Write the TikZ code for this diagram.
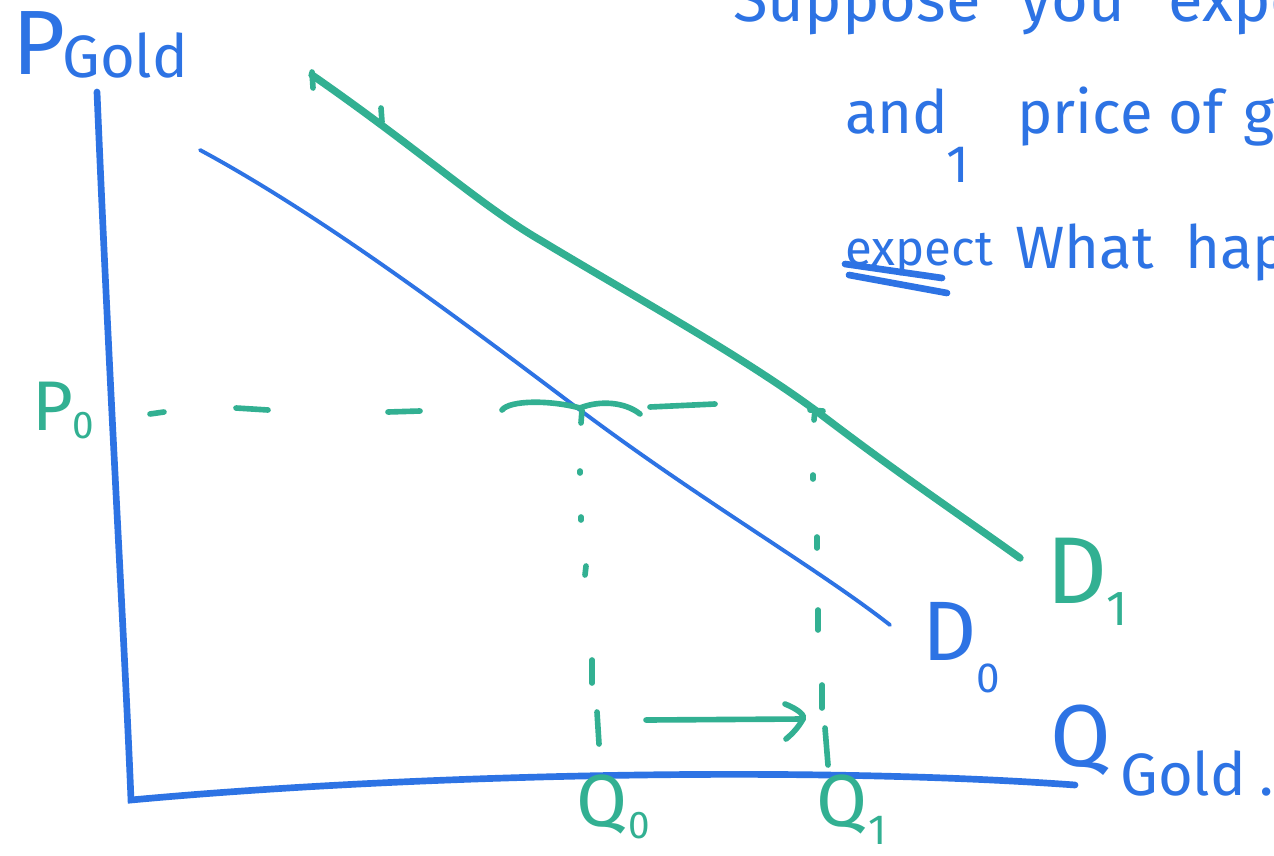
\documentclass[tikz,border=0pt]{standalone}
\usepackage{fontspec}
\setmainfont{Fira Sans}
\definecolor{pblue}{RGB}{45,115,228}
\definecolor{pgreen}{RGB}{50,176,146}
\tikzset{
  blueaxis/.style={draw=pblue,line width=3.8pt,line cap=round},
  blueline/.style={draw=pblue,line width=2.2pt,line cap=round},
  greenline/.style={draw=pgreen,line width=4.2pt,line cap=round},
  greendash/.style={draw=pgreen,line width=3.2pt,line cap=round},
  bluetxt/.style={text=pblue,anchor=base west,inner sep=0pt},
  greentxt/.style={text=pgreen,anchor=base west,inner sep=0pt},
}
\newcommand{\fs}[1]{\fontsize{#1}{#1}\selectfont}
\begin{document}
\begin{tikzpicture}[x=0.02cm,y=-0.02cm]
\useasboundingbox (0,0) rectangle (1274,855);
\clip (0,0) rectangle (1274,855);
\fill[white] (0,0) rectangle (1274,855);
% axes
\draw[blueaxis] (97,92) .. controls (110,400) and (125,650) .. (131,800) .. controls (400,775) and (800,765) .. (1075,785);
% D0
\draw[blueline] (200,150) .. controls (330,220) and (480,335) .. (580,410) .. controls (700,500) and (820,570) .. (890,625);
% D1
\draw[greenline] (312,75) .. controls (420,150) and (480,205) .. (540,240) .. controls (640,300) and (740,355) .. (815,410) .. controls (900,475) and (960,515) .. (1020,558);
\draw[greendash] (312,72) -- (313,88);
\draw[greendash] (381,108) -- (382,122);
\draw[greendash] (810,410) -- (823,411);
\draw[greendash] (815,410) -- (814,420);
% horizontal P0 dashes
\draw[greendash] (150,414) -- (164,412);
\draw[greendash] (236,408) -- (268,410);
\draw[greendash] (388,412) -- (420,411);
\draw[greendash] (502,410) .. controls (510,400) and (550,400) .. (580,408);
\draw[greendash] (580,408) .. controls (600,400) and (625,402) .. (640,414);
\draw[greendash] (582,410) -- (581,423);
\draw[greendash] (650,407) -- (715,404);
% vertical Q0 dashes
\draw[greendash] (580,471) -- (580,473);
\draw[greendash] (581,517) -- (581,520);
\draw[greendash] (586,566) -- (585,575);
\draw[greendash] (592,660) -- (592,683);
\draw[greendash] (597,712) -- (599,744);
% vertical Q1 dashes
\draw[greendash] (813,475) -- (813,479);
\draw[greendash] (817,537) -- (817,548);
\draw[greendash] (818,610) -- (818,630);
\draw[greendash] (822,685) -- (822,708);
\draw[greendash] (825,728) -- (828,765);
% arrow
\coordinate (arrS) at (646,720);
\coordinate (arrE) at (803,719);
\draw[greendash] (arrS) -- (arrE);
\draw[greendash] (785,704) .. controls (800,710) and (805,716) .. (arrE) .. controls (798,728) and (792,734) .. (786,739);
% axis labels
\node[bluetxt,font=\fs{52}] (pgP) at (12,75) {P};
\node[bluetxt,font=\fs{34}] (pgG) at (62,78) {Gold};
\node[bluetxt,font=\fs{50}] (qgQ) at (1050,766) {Q};
\node[bluetxt,font=\fs{34}] (qgG) at (1120,795) {Gold\hspace{8pt}.};
% P0
\node[greentxt,font=\fs{40}] (p0P) at (32,430) {P};
\node[greentxt,font=\fs{22}] (p0s) at (72,438) {0};
% Q0 Q1
\node[greentxt,font=\fs{42}] (q0Q) at (576,826) {Q};
\node[greentxt,font=\fs{22}] (q0s) at (628,838) {0};
\node[greentxt,font=\fs{42}] (q1Q) at (816,826) {Q};
\node[greentxt,font=\fs{24}] (q1s) at (868,844) {1};
% D0 D1
\node[bluetxt,font=\fs{48}] (d0D) at (922,660) {D};
\node[bluetxt,font=\fs{24}] (d0s) at (976,692) {0};
\node[greentxt,font=\fs{54}] (d1D) at (1046,603) {D};
\node[greentxt,font=\fs{28}] (d1s) at (1106,625) {1};
% top text
\node[bluetxt,font=\fs{36}] (t1) at (733,22) {Suppose};
\node[bluetxt,font=\fs{36}] (t2) at (1020,22) {you};
\node[bluetxt,font=\fs{36}] (t3) at (1168,22) {expect};
\node[bluetxt,font=\fs{34}] (t4) at (845,133) {and};
\node[bluetxt,font=\fs{30}] (t5) at (946,182) {1};
\node[bluetxt,font=\fs{34}] (t6) at (1017,133) {price};
\node[bluetxt,font=\fs{34}] (t7) at (1168,133) {of\,\,gold};
\node[bluetxt,font=\fs{28}] (t8) at (845,265) {expect};
\node[bluetxt,font=\fs{34}] (t9) at (1015,268) {What};
\node[bluetxt,font=\fs{34}] (t10) at (1185,268) {happens};
\draw[blueaxis] (845,264) -- (942,278);
\draw[blueaxis] (849,275) -- (947,293);
\end{tikzpicture}
\end{document}
